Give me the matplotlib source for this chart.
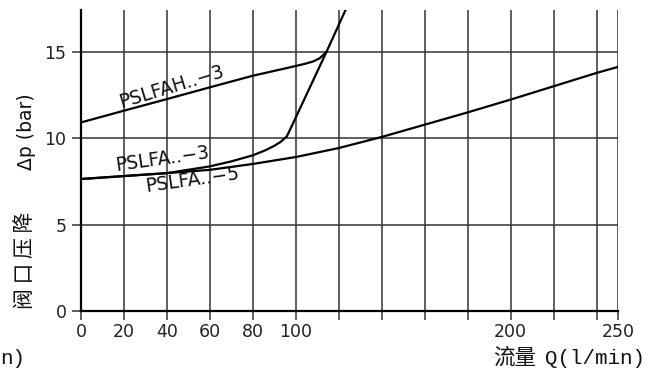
"""
阀口压降 - 流量 特性曲线 (PSLFA / PSLFAH) 재현.
"""
import numpy as np
import matplotlib
matplotlib.use("Agg")
import matplotlib.pyplot as plt

OUT = "out.png"

# PSLFAH..-3 : 흐름량 Q (l/min) vs Δp (bar)
Q_H = [0, 20, 40, 60, 80, 95, 104, 108, 111, 113, 114.4]
DP_H = [10.9, 11.58, 12.25, 12.93, 13.6, 14.02, 14.28, 14.42, 14.6, 14.82, 15.01]

# PSLFA..-3
Q_3 = [0, 20, 40, 60, 70, 80, 86, 90, 93, 95.8, 98.8, 114.4, 123.4]
DP_3 = [7.63, 7.8, 7.97, 8.36, 8.65, 9.0, 9.3, 9.55, 9.78, 10.09, 10.87, 15.01, 17.47]

# PSLFA..-5
Q_5 = [0, 20, 40, 60, 80, 100, 120, 140, 160, 180, 200, 220, 240, 250]
DP_5 = [7.63, 7.8, 7.97, 8.16, 8.5, 8.9, 9.42, 10.06, 10.77, 11.48, 12.22, 12.99, 13.76, 14.11]

X_GRID = list(range(0, 250, 20)) + [250]
X_LABELS = {0: "0", 20: "20", 40: "40", 60: "60", 80: "80", 100: "100",
            200: "200", 250: "250"}
Y_TICKS = [0, 5, 10, 15]

CJK = ["Noto Sans CJK SC", "DejaVu Sans"]


def main():
    fig = plt.figure(figsize=(6.64, 3.81), dpi=100)
    ax = fig.add_axes([0.122, 0.1837, 0.8087, 0.7901])
    ax.set_xlim(0, 250)
    ax.set_ylim(0, 17.4)

    grid_kw = dict(color="#333333", lw=1.1, zorder=1)
    for x in X_GRID[1:]:
        ax.axvline(x, **grid_kw)
    for y in Y_TICKS[1:]:
        ax.axhline(y, **grid_kw)

    for q, dp in [(Q_H, DP_H), (Q_3, DP_3), (Q_5, DP_5)]:
        ax.plot(q, dp, color="black", lw=1.6, solid_joinstyle="round", zorder=3)

    for s in ["top", "right"]:
        ax.spines[s].set_visible(False)
    for s in ["left", "bottom"]:
        ax.spines[s].set_linewidth(1.6)
        ax.spines[s].set_color("black")

    ax.set_xticks(X_GRID)
    ax.set_xticklabels([X_LABELS.get(x, "") for x in X_GRID])
    ax.set_yticks(Y_TICKS)
    ax.tick_params(axis="both", direction="out", length=6.5, width=1.1,
                   color="#333333", labelsize=12.5, labelcolor="#222222")
    ax.tick_params(axis="y", pad=4)
    ax.tick_params(axis="x", pad=2)

    txt_kw = dict(fontsize=13.5, color="#111111", ha="center", va="center",
                  rotation_mode="anchor")
    ax.text(42, 12.95, "PSLFAH..\u22123", rotation=17, **txt_kw)
    ax.text(38, 8.8, "PSLFA..\u22123", rotation=8, **txt_kw)
    ax.text(52, 7.55, "PSLFA..\u22125", rotation=8, **txt_kw)

    # y 축 제목: Δp (bar) + 阀口压降 (세로, 글자 간격 있음)
    fig.text(27 / 664, 1 - 132 / 381, "\u0394p (bar)", rotation=90, fontsize=13.5,
             ha="center", va="center", color="#111111")
    fig.text(25 / 664, 1 - 260 / 381, "阀 口 压 降", rotation=90, fontsize=15,
             family=CJK, ha="center", va="center", color="#111111")

    fig.text(536 / 664, 1 - 358 / 381, "流量", fontsize=15.5, family=CJK,
             ha="right", va="center", color="#111111")
    fig.text(545 / 664, 1 - 358 / 381, "Q(l/min)", fontsize=15,
             family="Liberation Mono", ha="left", va="center", color="#111111")
    fig.text(0.0, 1 - 358 / 381, "n)", fontsize=15,
             family="Liberation Mono", ha="left", va="center", color="#111111")

    fig.savefig(OUT, dpi=100)


if __name__ == "__main__":
    main()
